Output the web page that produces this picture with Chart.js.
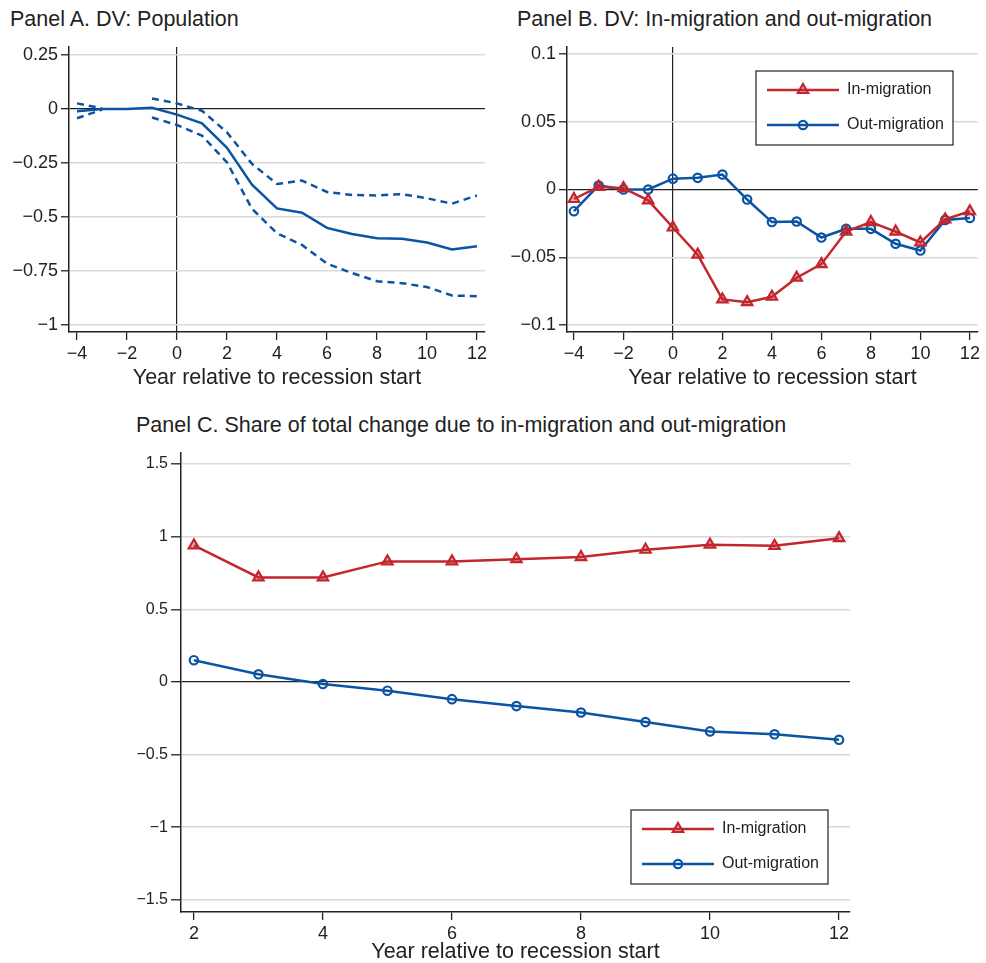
<!DOCTYPE html>
<html lang="en">
<head>
<meta charset="UTF-8">
<title>Population, in-migration and out-migration around recessions</title>
<script src="https://cdn.jsdelivr.net/npm/chart.js"></script>
<style>
  body { margin: 0; background: #fff; font-family: 'Liberation Sans', Arial, sans-serif; color: #222; }
  #page { position: relative; width: 986px; height: 963px; }
  .panel-title { position: absolute; font-size: 21.5px; line-height: 22px; white-space: nowrap; color: #222; }
  canvas { position: absolute; }
</style>
</head>
<body>
<div id="page">
  <div class="panel-title" style="left:10px; top:8px;">Panel A. DV: Population</div>
  <div class="panel-title" style="left:517px; top:8px;">Panel B. DV: In-migration and out-migration</div>
  <div class="panel-title" style="left:136px; top:414px;">Panel C. Share of total change due to in-migration and out-migration</div>
  <canvas id="chartA" width="495" height="395" style="left:0; top:0;"></canvas>
  <canvas id="chartB" width="491" height="395" style="left:495px; top:0;"></canvas>
  <canvas id="chartC" width="986" height="563" style="left:0; top:400px;"></canvas>
</div>

<script>
  // ---- data ----
  const yearsAB = [-4, -3, -2, -1, 0, 1, 2, 3, 4, 5, 6, 7, 8, 9, 10, 11, 12];
  const popEst   = [-0.010, 0.000, 0.000, 0.006, -0.026, -0.066, -0.180, -0.350, -0.460, -0.480, -0.550, -0.578, -0.598, -0.600, -0.618, -0.650, -0.635];
  const popUpper = [0.026, 0.003, null, 0.049, 0.026, -0.008, -0.108, -0.254, -0.347, -0.331, -0.384, -0.398, -0.400, -0.394, -0.413, -0.438, -0.400];
  const popLower = [-0.043, -0.003, null, -0.039, -0.074, -0.123, -0.247, -0.462, -0.575, -0.629, -0.716, -0.759, -0.797, -0.806, -0.824, -0.863, -0.866];

  const inMig  = [-0.007, 0.002, 0.001, -0.008, -0.028, -0.048, -0.081, -0.083, -0.079, -0.065, -0.055, -0.031, -0.024, -0.031, -0.039, -0.022, -0.016];
  const outMig = [-0.016, 0.003, 0.000, 0.000, 0.008, 0.0086, 0.011, -0.0074, -0.024, -0.0236, -0.0354, -0.029, -0.029, -0.040, -0.045, -0.0224, -0.021];

  const yearsC    = [2, 3, 4, 5, 6, 7, 8, 9, 10, 11, 12];
  const inShare   = [0.94, 0.72, 0.72, 0.83, 0.83, 0.845, 0.86, 0.91, 0.945, 0.937, 0.99];
  const outShare  = [0.15, 0.053, -0.014, -0.06, -0.118, -0.166, -0.21, -0.276, -0.34, -0.36, -0.398];

  const xTicksAB = [-4, -2, 0, 2, 4, 6, 8, 10, 12];
  const yTicksA  = [0.25, 0, -0.25, -0.5, -0.75, -1];
  const yTicksB  = [0.1, 0.05, 0, -0.05, -0.1];
  const xTicksC  = [2, 4, 6, 8, 10, 12];
  const yTicksC  = [1.5, 1, 0.5, 0, -0.5, -1, -1.5];

  const RED = '#c4262e';
  const BLUE = '#0b54a4';
  const INK = '#222';
  const GRID = '#d9d9d9';

  Chart.defaults.font.family = "'Liberation Sans', Arial, sans-serif";
  Chart.defaults.color = INK;

  const pts = (xs, ys) => xs.map((x, i) => ({ x: x, y: ys[i] }));
  const fmt = v => String(v).replace('-', '\u2212');

  // legend box drawn inside the plot, Stata style
  const legendBox = {
    id: 'legendBox',
    afterDraw(chart, args, o) {
      if (!o || !o.show) return;
      const ctx = chart.ctx;
      ctx.save();
      ctx.fillStyle = '#fff';
      ctx.fillRect(o.x, o.y, o.w, o.h);
      ctx.strokeStyle = '#333';
      ctx.lineWidth = 1.3;
      ctx.strokeRect(o.x, o.y, o.w, o.h);
      chart.data.datasets.forEach((ds, i) => {
        const ry = o.y + o.rows[i];
        ctx.strokeStyle = ds.borderColor;
        ctx.lineWidth = ds.borderWidth;
        ctx.beginPath();
        ctx.moveTo(o.x + 11, ry);
        ctx.lineTo(o.x + 83, ry);
        ctx.stroke();
        drawMarker(ctx, ds, o.x + 47, ry);
        ctx.fillStyle = INK;
        ctx.font = "16px 'Liberation Sans', Arial, sans-serif";
        ctx.textBaseline = 'middle';
        ctx.fillText(ds.label, o.x + 91, ry);
      });
      ctx.restore();
    }
  };

  function drawMarker(ctx, ds, x, y) {
    const r = ds.pointRadius;
    ctx.beginPath();
    if (ds.pointStyle === 'triangle') {
      for (let k = 0; k < 3; k++) {
        const a = k * 2 * Math.PI / 3;
        const px = x + Math.sin(a) * r, py = y - Math.cos(a) * r;
        if (k === 0) ctx.moveTo(px, py); else ctx.lineTo(px, py);
      }
      ctx.closePath();
    } else {
      ctx.arc(x, y, r, 0, 2 * Math.PI);
    }
    ctx.fillStyle = ds.pointBackgroundColor;
    ctx.fill();
    ctx.lineWidth = ds.pointBorderWidth;
    ctx.strokeStyle = ds.pointBorderColor;
    ctx.stroke();
  }

  function xAxis(min, max, ticks, height, zeroLine, titlePadBottom) {
    return {
      type: 'linear', min: min, max: max,
      afterBuildTicks: s => { s.ticks = ticks.map(v => ({ value: v })); },
      afterFit: s => { s.height = height; },
      border: { display: true, color: INK, width: 1.5 },
      grid: {
        drawOnChartArea: zeroLine,
        color: c => (c.tick && c.tick.value === 0 ? INK : 'rgba(0,0,0,0)'),
        lineWidth: 1.2,
        tickColor: INK, tickLength: 8, tickWidth: 1.3
      },
      ticks: { padding: 3, font: { size: 18 }, maxRotation: 0, autoSkip: false, callback: fmt },
      title: { display: true, text: 'Year relative to recession start', font: { size: 21.5, lineHeight: 1 }, padding: { top: 0, bottom: titlePadBottom } }
    };
  }

  function yAxis(min, max, ticks, width, tickFont, tickLen) {
    return {
      type: 'linear', min: min, max: max,
      afterBuildTicks: s => { s.ticks = ticks.map(v => ({ value: v })); },
      afterFit: s => { s.width = width; },
      border: { display: true, color: INK, width: 1.5 },
      grid: {
        color: c => (c.tick && c.tick.value === 0 ? INK : GRID),
        lineWidth: c => (c.tick && c.tick.value === 0 ? 1.3 : 1.6),
        tickColor: INK, tickLength: tickLen, tickWidth: 1.3
      },
      ticks: { padding: 3, font: { size: tickFont }, autoSkip: false, callback: fmt }
    };
  }

  function seriesStyle(color, style) {
    const tri = style === 'triangle';
    return {
      borderColor: color, borderWidth: 2.5, tension: 0,
      pointStyle: style,
      pointRadius: tri ? 6 : 4.2,
      pointBorderWidth: 2.2,
      pointBorderColor: color,
      pointBackgroundColor: tri ? 'rgba(196,38,46,0.35)' : 'rgba(255,255,255,0)'
    };
  }

  // Panel A
  new Chart(document.getElementById('chartA'), {
    type: 'line',
    data: {
      datasets: [
        { label: 'Estimate', data: pts(yearsAB, popEst), borderColor: BLUE, borderWidth: 2.5, pointRadius: 0, tension: 0 },
        { label: 'Upper 95% CI', data: pts(yearsAB, popUpper), borderColor: BLUE, borderWidth: 2.5, borderDash: [7, 5], pointRadius: 0, tension: 0, spanGaps: false },
        { label: 'Lower 95% CI', data: pts(yearsAB, popLower), borderColor: BLUE, borderWidth: 2.5, borderDash: [7, 5], pointRadius: 0, tension: 0, spanGaps: false }
      ]
    },
    options: {
      responsive: false, animation: false, events: [],
      layout: { padding: { top: 47, right: 10, bottom: 0, left: 0 } },
      plugins: { legend: { display: false }, tooltip: { enabled: false } },
      scales: {
        x: xAxis(-4.32, 12.32, xTicksAB, 63, true, 6),
        y: yAxis(-1.032, 0.287, yTicksA, 69, 18, 8)
      }
    }
  });

  // Panel B
  new Chart(document.getElementById('chartB'), {
    type: 'line',
    data: {
      datasets: [
        Object.assign({ label: 'In-migration', data: pts(yearsAB, inMig) }, seriesStyle(RED, 'triangle')),
        Object.assign({ label: 'Out-migration', data: pts(yearsAB, outMig) }, seriesStyle(BLUE, 'circle'))
      ]
    },
    options: {
      responsive: false, animation: false, events: [],
      layout: { padding: { top: 47, right: 3, bottom: 0, left: 0 } },
      plugins: {
        legend: { display: false }, tooltip: { enabled: false },
        legendBox: { show: true, x: 261, y: 71, w: 197, h: 74, rows: [19, 54] }
      },
      scales: {
        x: xAxis(-4.28, 12.32, xTicksAB, 63, true, 6),
        y: yAxis(-0.105, 0.105, yTicksB, 72, 18, 8)
      }
    },
    plugins: [legendBox]
  });

  // Panel C
  new Chart(document.getElementById('chartC'), {
    type: 'line',
    data: {
      datasets: [
        Object.assign({ label: 'In-migration', data: pts(yearsC, inShare) }, seriesStyle(RED, 'triangle')),
        Object.assign({ label: 'Out-migration', data: pts(yearsC, outShare) }, seriesStyle(BLUE, 'circle'))
      ]
    },
    options: {
      responsive: false, animation: false, events: [],
      layout: { padding: { top: 53, right: 136, bottom: 0, left: 0 } },
      plugins: {
        legend: { display: false }, tooltip: { enabled: false },
        legendBox: { show: true, x: 631, y: 410, w: 197, h: 74, rows: [19, 54] }
      },
      scales: {
        x: xAxis(1.8, 12.17, xTicksC, 51, false, 0),
        y: yAxis(-1.583, 1.576, yTicksC, 181, 16, 10)
      }
    },
    plugins: [legendBox]
  });
</script>
</body>
</html>
